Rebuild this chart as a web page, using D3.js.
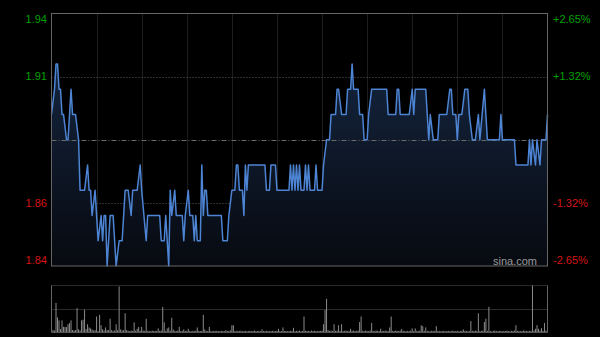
<!DOCTYPE html>
<html>
<head>
<meta charset="utf-8">
<script src="https://cdn.jsdelivr.net/npm/d3@7"></script>
<style>
  html, body { margin: 0; padding: 0; background: #000; }
  #chart { width: 600px; height: 337px; }
</style>
</head>
<body>
<div id="chart"></div>
<script>
// 昨收价和价格区间
const prevClose = 1.89
const priceDomain = [1.84, 1.94]
const totalMinutes = 330

// 分时走势：分钟序号和对应价格
const priceMinutes = [
  0, 2, 3, 4, 5, 6, 7, 8, 10, 11, 13, 14, 16, 18, 19, 22, 24, 25, 26, 27,
  29, 31, 33, 34, 35, 36, 37, 39, 41, 43, 45, 47, 49, 51, 53, 54, 57, 59, 60, 63,
  64, 72, 73, 75, 76, 78, 79, 80, 82, 83, 87, 88, 89, 91, 92, 94, 95, 96, 97, 99,
  100, 101, 102, 103, 104, 113, 114, 117, 118, 120, 122, 123, 124, 125, 127, 128, 129, 130, 131, 142,
  143, 145, 146, 149, 150, 158, 159, 160, 161, 162, 163, 164, 165, 166, 168, 169, 170, 171, 172, 175,
  176, 177, 180, 181, 183, 185, 186, 189, 190, 191, 193, 196, 197, 199, 200, 201, 204, 205, 207, 208,
  210, 211, 213, 223, 224, 229, 230, 231, 232, 238, 240, 241, 242, 249, 251, 252, 254, 257, 258, 263,
  265, 266, 267, 269, 270, 271, 273, 275, 277, 278, 280, 282, 284, 285, 288, 290, 298, 299, 300, 308,
  309, 317, 318, 319, 320, 322, 323, 325, 326, 329, 330
]
const priceValues = [
  1.90, 1.91, 1.92, 1.92, 1.91, 1.91, 1.90, 1.90, 1.89, 1.89, 1.91, 1.90, 1.90, 1.89, 1.87, 1.87, 1.88, 1.87, 1.87, 1.86,
  1.87, 1.85, 1.86, 1.85, 1.86, 1.86, 1.84, 1.86, 1.86, 1.84, 1.85, 1.85, 1.87, 1.87, 1.86, 1.87, 1.87, 1.88, 1.87, 1.85,
  1.86, 1.86, 1.85, 1.85, 1.86, 1.84, 1.87, 1.86, 1.87, 1.86, 1.86, 1.85, 1.86, 1.87, 1.86, 1.86, 1.85, 1.86, 1.85, 1.85,
  1.88, 1.86, 1.87, 1.87, 1.86, 1.86, 1.85, 1.85, 1.86, 1.87, 1.87, 1.88, 1.88, 1.87, 1.87, 1.86, 1.88, 1.87, 1.88, 1.88,
  1.87, 1.87, 1.88, 1.88, 1.87, 1.87, 1.88, 1.87, 1.88, 1.87, 1.88, 1.87, 1.88, 1.87, 1.87, 1.88, 1.87, 1.88, 1.87, 1.87,
  1.88, 1.87, 1.87, 1.88, 1.89, 1.89, 1.90, 1.90, 1.91, 1.91, 1.90, 1.90, 1.91, 1.91, 1.92, 1.91, 1.91, 1.90, 1.90, 1.89,
  1.89, 1.90, 1.91, 1.91, 1.90, 1.90, 1.91, 1.91, 1.90, 1.90, 1.91, 1.90, 1.91, 1.91, 1.89, 1.90, 1.89, 1.89, 1.90, 1.90,
  1.91, 1.91, 1.90, 1.90, 1.89, 1.90, 1.90, 1.91, 1.91, 1.90, 1.89, 1.89, 1.90, 1.89, 1.91, 1.89, 1.89, 1.90, 1.89, 1.89,
  1.88, 1.88, 1.89, 1.88, 1.89, 1.88, 1.89, 1.88, 1.89, 1.89, 1.90
]

// 每分钟成交量
const volumes = [
  37, 20, 15, 300, 150, 120, 30, 120, 53, 53,
  50, 80, 93, 120, 20, 15, 20, 247, 27, 15,
  120, 127, 230, 30, 80, 47, 37, 27, 15, 20,
  160, 10, 177, 70, 27, 15, 47, 20, 20, 137,
  20, 12, 15, 80, 20, 470, 27, 15, 20, 193,
  20, 12, 10, 15, 12, 100, 15, 33, 53, 12,
  53, 15, 12, 137, 10, 12, 8, 15, 10, 12,
  10, 37, 12, 15, 260, 100, 12, 37, 47, 15,
  147, 27, 12, 10, 15, 53, 10, 12, 27, 10,
  12, 33, 10, 8, 12, 10, 15, 47, 12, 10,
  12, 177, 27, 10, 12, 53, 10, 8, 12, 10,
  13, 10, 8, 12, 10, 8, 20, 10, 12, 15,
  70, 70, 10, 8, 12, 10, 13, 8, 10, 12,
  8, 10, 12, 8, 10, 15, 8, 10, 12, 8,
  27, 10, 8, 12, 10, 8, 10, 12, 8, 10,
  12, 33, 10, 8, 47, 10, 12, 8, 10, 12,
  10, 43, 8, 12, 10, 15, 8, 10, 160, 12,
  10, 12, 8, 15, 10, 12, 10, 8, 12, 10,
  15, 80, 227, 343, 20, 12, 15, 10, 80, 12,
  15, 70, 12, 80, 10, 12, 15, 10, 12, 33,
  12, 15, 10, 12, 15, 103, 160, 12, 10, 15,
  12, 10, 15, 93, 12, 10, 15, 12, 10, 33,
  12, 10, 15, 12, 10, 47, 160, 12, 10, 15,
  12, 10, 15, 30, 12, 10, 8, 12, 10, 15,
  37, 10, 37, 12, 10, 15, 70, 60, 12, 47,
  10, 12, 8, 15, 10, 12, 60, 10, 12, 8,
  10, 12, 8, 10, 12, 8, 10, 15, 8, 10,
  12, 8, 10, 12, 27, 10, 12, 8, 10, 113,
  12, 10, 15, 12, 193, 10, 12, 15, 103, 137,
  12, 260, 10, 8, 12, 15, 10, 8, 12, 10,
  8, 12, 10, 15, 10, 8, 12, 10, 15, 70,
  10, 12, 8, 10, 15, 12, 10, 8, 12, 10,
  480, 15, 33, 70, 33, 15, 40, 12, 93, 15,
  120
]

// 坐标轴刻度
const priceTicks = [1.94, 1.915, 1.865, 1.84]
const priceTickLabels = ["1.94", "1.91", "1.86", "1.84"]
const pctTickLabels = ["+2.65%", "+1.32%", "-1.32%", "-2.65%"]
const timeGrid = [30, 60, 90, 120, 150, 180, 210, 240, 270, 300]

const width = 600
const height = 337
const plot = {left: 51.5, right: 547.5, top: 13.5, bottom: 266}
const volPlot = {top: 285.5, mid: 309.5, bottom: 332}

const svg = d3.select("#chart").append("svg")
  .attr("width", width).attr("height", height)
  .style("font-family", "Arial, 'Liberation Sans', sans-serif")

svg.append("rect").attr("width", width).attr("height", height).attr("fill", "#000")

const x = d3.scaleLinear().domain([0, totalMinutes]).range([plot.left, plot.right])
const y = d3.scaleLinear().domain(priceDomain).range([plot.bottom, plot.top])
const yVol = d3.scaleLinear().domain([0, d3.max(volumes)]).range([volPlot.bottom, volPlot.top])

// 面积渐变
const defs = svg.append("defs")
const grad = defs.append("linearGradient").attr("id", "areaFill")
  .attr("gradientUnits", "userSpaceOnUse")
  .attr("x1", 0).attr("y1", plot.top).attr("x2", 0).attr("y2", plot.bottom)
grad.append("stop").attr("offset", "0%").attr("stop-color", "#172a48")
grad.append("stop").attr("offset", "100%").attr("stop-color", "#070a10")

// 竖向网格
svg.append("g").selectAll("line").data(timeGrid).enter().append("line")
  .attr("x1", d => Math.round(x(d)) + 0.5).attr("x2", d => Math.round(x(d)) + 0.5)
  .attr("y1", plot.top).attr("y2", plot.bottom)
  .attr("stroke", "#3a3a3a").attr("stroke-dasharray", "1,1")

// 横向网格
svg.append("g").selectAll("line").data([1.915, 1.865]).enter().append("line")
  .attr("x1", plot.left).attr("x2", plot.right)
  .attr("y1", d => Math.round(y(d)) + 0.5).attr("y2", d => Math.round(y(d)) + 0.5)
  .attr("stroke", "#5a5a5a").attr("stroke-dasharray", "1,2")

const points = priceMinutes.map((m, i) => [m, priceValues[i]])

const area = d3.area().x(d => x(d[0])).y0(plot.bottom).y1(d => y(d[1]))
svg.append("path").datum(points).attr("d", area).attr("fill", "url(#areaFill)")

// 昨收线
svg.append("line")
  .attr("x1", plot.left).attr("x2", plot.right)
  .attr("y1", Math.round(y(prevClose)) + 0.5).attr("y2", Math.round(y(prevClose)) + 0.5)
  .attr("stroke", "#6a6a6a").attr("stroke-dasharray", "5,2,1,2")

const line = d3.line().x(d => x(d[0])).y(d => y(d[1]))
svg.append("path").datum(points).attr("d", line)
  .attr("fill", "none").attr("stroke", "#4d84d4").attr("stroke-width", 1.5)
  .attr("stroke-linejoin", "round")

// 边框
svg.append("rect")
  .attr("x", plot.left).attr("y", plot.top)
  .attr("width", plot.right - plot.left).attr("height", plot.bottom - plot.top)
  .attr("fill", "none").attr("stroke", "#666")

// 左右刻度文字
const labelY = v => Math.min(Math.max(y(v), plot.top + 6), plot.bottom - 6)
const labelColor = v => v > prevClose ? "#00a000" : "#d41414"

svg.append("g").selectAll("text").data(priceTicks).enter().append("text")
  .attr("x", 47).attr("y", labelY).attr("dy", "0.35em")
  .attr("text-anchor", "end").attr("font-size", 11)
  .attr("fill", labelColor).text((d, i) => priceTickLabels[i])

svg.append("g").selectAll("text").data(priceTicks).enter().append("text")
  .attr("x", 553).attr("y", labelY).attr("dy", "0.35em")
  .attr("text-anchor", "start").attr("font-size", 11)
  .attr("fill", labelColor).text((d, i) => pctTickLabels[i])

svg.append("text").attr("x", 537).attr("y", 261).attr("dy", "0.35em")
  .attr("text-anchor", "end").attr("font-size", 11).attr("fill", "#9a9a9a")
  .text("sina.com")

// 成交量
const vol = svg.append("g")
vol.selectAll("line.grid").data([volPlot.top, volPlot.mid]).enter().append("line")
  .attr("x1", plot.left).attr("x2", plot.right).attr("y1", d => d).attr("y2", d => d)
  .attr("stroke", "#555").attr("stroke-dasharray", "1,1")

vol.selectAll("line.bar").data(volumes).enter().append("line")
  .attr("x1", (d, i) => x(i)).attr("x2", (d, i) => x(i))
  .attr("y1", volPlot.bottom).attr("y2", d => yVol(d))
  .attr("stroke", "#8a8a8a").attr("stroke-width", 1)

vol.append("line").attr("x1", plot.left).attr("x2", plot.right)
  .attr("y1", volPlot.bottom + 0.5).attr("y2", volPlot.bottom + 0.5).attr("stroke", "#555")
vol.selectAll("line.side").data([plot.left, plot.right]).enter().append("line")
  .attr("x1", d => d).attr("x2", d => d).attr("y1", volPlot.top).attr("y2", volPlot.bottom + 0.5)
  .attr("stroke", "#666")
</script>
</body>
</html>
